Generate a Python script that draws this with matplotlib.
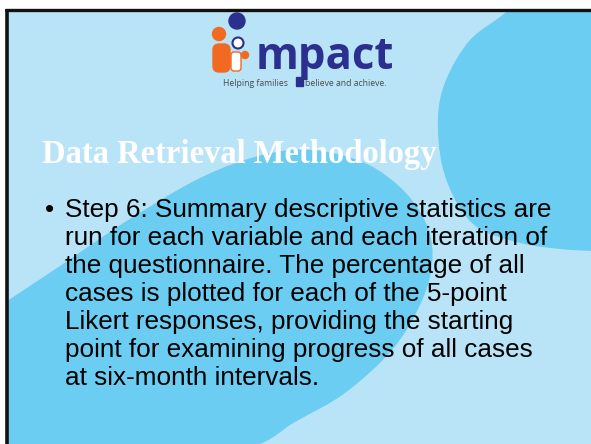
import matplotlib.pyplot as plt
from matplotlib.path import Path
from matplotlib.patches import PathPatch, Circle, FancyBboxPatch, Rectangle

# slide colours
light_bg = '#b9e4f8'
dark_bg = '#6ccdf2'
logo_blue = '#2b2f8e'
logo_orange = '#f26a21'

# boundary points of the two darker background shapes (pixel coords, y down)
right_blob = [(508, 10), (470, 40), (446, 80), (438, 117), (442, 165),
              (458, 205), (480, 229), (520, 243), (560, 249), (600, 251),
              (660, 250), (660, -30), (540, -30)]
left_blob = [(0, 306), (60, 266), (125, 222), (200, 178), (262, 155),
             (312, 150), (365, 163), (405, 192), (428, 228), (432, 265),
             (420, 305), (392, 350), (345, 393), (295, 422), (245, 450),
             (100, 490), (-30, 490), (-30, 330)]

title = 'Data Retrieval Methodology'
logo_word = 'mpact'
tagline_left = 'Helping families'
tagline_right = 'believe and achieve.'
bullet_lines = [
    'Step 6: Summary descriptive statistics are',
    'run for each variable and each iteration of',
    'the questionnaire. The percentage of all',
    'cases is plotted for each of the 5-point',
    'Likert responses, providing the starting',
    'point for examining progress of all cases',
    'at six-month intervals.',
]


def smooth_path(pts):
    # closed Catmull-Rom curve through the points, as cubic Bezier segments
    n = len(pts)
    verts = [pts[0]]
    codes = [Path.MOVETO]
    for i in range(n):
        p0, p1 = pts[i - 1], pts[i]
        p2, p3 = pts[(i + 1) % n], pts[(i + 2) % n]
        c1 = (p1[0] + (p2[0] - p0[0]) / 6, p1[1] + (p2[1] - p0[1]) / 6)
        c2 = (p2[0] - (p3[0] - p1[0]) / 6, p2[1] - (p3[1] - p1[1]) / 6)
        verts += [c1, c2, p2]
        codes += [Path.CURVE4] * 3
    return Path(verts, codes)


fig = plt.figure(figsize=(5.91, 4.44), dpi=100)
fig.patch.set_facecolor('white')
ax = fig.add_axes([0, 0, 1, 1])
ax.set_xlim(0, 591)
ax.set_ylim(444, 0)
ax.axis('off')

# background
ax.add_patch(Rectangle((8, 10), 600, 440, color=light_bg, zorder=0))
ax.add_patch(PathPatch(smooth_path(right_blob), color=dark_bg, lw=0, zorder=1))
ax.add_patch(PathPatch(smooth_path(left_blob), color=dark_bg, lw=0, zorder=1))
ax.add_patch(Rectangle((0, 0), 600, 9, color='white', zorder=2))
ax.add_patch(Rectangle((0, 0), 5, 450, color='white', zorder=2))
ax.plot([5, 600], [10.5, 10.5], color='#111111', lw=2.4, zorder=3, solid_capstyle='butt')
ax.plot([7, 7], [9.5, 450], color='#111111', lw=2.6, zorder=3, solid_capstyle='butt')

# logo icon
ax.add_patch(Circle((237, 21), 8, color=logo_blue, zorder=4))
ax.add_patch(Circle((219, 34), 6.5, color=logo_orange, zorder=4))
ax.add_patch(FancyBboxPatch((215, 46), 13, 24, boxstyle='round,pad=2,rounding_size=6',
                            color=logo_orange, zorder=4))
ax.add_patch(Circle((238, 43), 5.5, color='white', ec=logo_blue, lw=1.5, zorder=5))
ax.add_patch(FancyBboxPatch((232, 53), 8, 17, boxstyle='round,pad=1,rounding_size=3',
                            color='white', ec=logo_orange, lw=1, zorder=5))
ax.add_patch(Circle((245, 55), 3.5, color=logo_orange, zorder=5))

ax.text(256, 69, logo_word, family='Open Sans', weight='bold', fontsize=31.5,
        color=logo_blue, va='baseline', ha='left', zorder=6)
ax.text(223, 86, tagline_left, family='Open Sans', fontsize=6.2, color='#4a4a4a',
        va='baseline', ha='left', zorder=6)
ax.add_patch(Rectangle((296, 77), 7, 9, color=logo_blue, zorder=6))
ax.text(305, 86, tagline_right, family='Open Sans', fontsize=6.2, color='#4a4a4a',
        va='baseline', ha='left', zorder=6)

# title
ax.text(42, 163, title, family='Liberation Serif', weight='bold', fontsize=23.5,
        color='white', va='baseline', ha='left', zorder=6)

# bullet
ax.text(45, 217, '\u2022', family='Liberation Sans', fontsize=18.8, color='black',
        va='baseline', ha='left', zorder=6)
for i, line in enumerate(bullet_lines):
    ax.text(65, 217 + 28 * i, line, family='Liberation Sans', fontsize=18.8,
            color='black', va='baseline', ha='left', zorder=6)

fig.savefig('out.png', dpi=100)
